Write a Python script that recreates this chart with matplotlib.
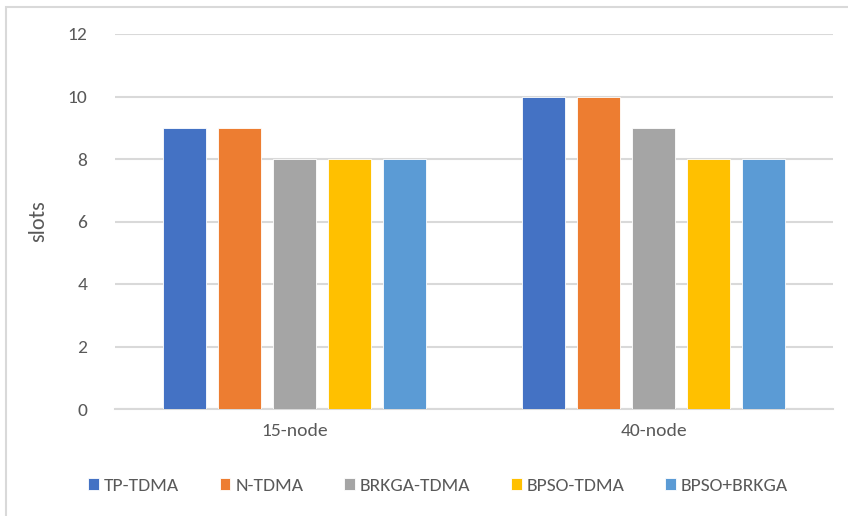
import numpy as np
import matplotlib.pyplot as plt
from matplotlib.patches import Rectangle

categories = ["15-node", "40-node"]
series = ["TP-TDMA", "N-TDMA", "BRKGA-TDMA", "BPSO-TDMA", "BPSO+BRKGA"]
slots = {
    "TP-TDMA": [9, 10],
    "N-TDMA": [9, 10],
    "BRKGA-TDMA": [8, 9],
    "BPSO-TDMA": [8, 8],
    "BPSO+BRKGA": [8, 8],
}
colors = ["#4472C4", "#ED7D31", "#A5A5A5", "#FFC000", "#5B9BD5"]
yticks = [0, 2, 4, 6, 8, 10, 12]

plt.rcParams['font.family'] = ['Carlito', 'Lato', 'DejaVu Sans']
text_color = "#595959"
grid_color = "#d9d9d9"

fig = plt.figure(figsize=(8.48, 5.16), dpi=100)
ax = fig.add_axes([115 / 848, 1 - 409 / 516, 718 / 848, 375 / 516])

# outer chart frame
fig.patches.append(Rectangle((6 / 848, -0.01), 1.0, 1 - 7 / 516 + 0.01,
                             transform=fig.transFigure, fill=False,
                             edgecolor=grid_color, linewidth=1.5))

x = np.arange(len(categories))
step = 0.153
width = 0.121
for i, (name, c) in enumerate(zip(series, colors)):
    ax.bar(x + (i - 2) * step, slots[name], width, color=c, label=name,
           edgecolor="white", linewidth=0.6, zorder=3)

ax.set_xlim(-0.5, 1.5)
ax.set_ylim(0, 12)
ax.set_yticks(yticks)
ax.set_xticks(x)
ax.set_xticklabels(categories)
ax.yaxis.grid(True, color=grid_color, linewidth=1.5, zorder=0)
for s in ["top", "right", "left"]:
    ax.spines[s].set_visible(False)
ax.spines["bottom"].set_color(grid_color)
ax.spines["bottom"].set_linewidth(1.5)
ax.tick_params(axis="both", length=0, colors=text_color, labelsize=14)
ax.tick_params(axis="y", pad=20)
ax.tick_params(axis="x", pad=10)
ax.set_ylabel("slots", fontsize=16, color=text_color, labelpad=14)

ax.legend(loc="center", bbox_to_anchor=(0.45, -0.205), ncol=5, frameon=False,
          fontsize=14, labelcolor=text_color, handlelength=0.55, handleheight=0.55,
          handletextpad=0.25, columnspacing=2.1)

plt.savefig("out.png", dpi=100)
